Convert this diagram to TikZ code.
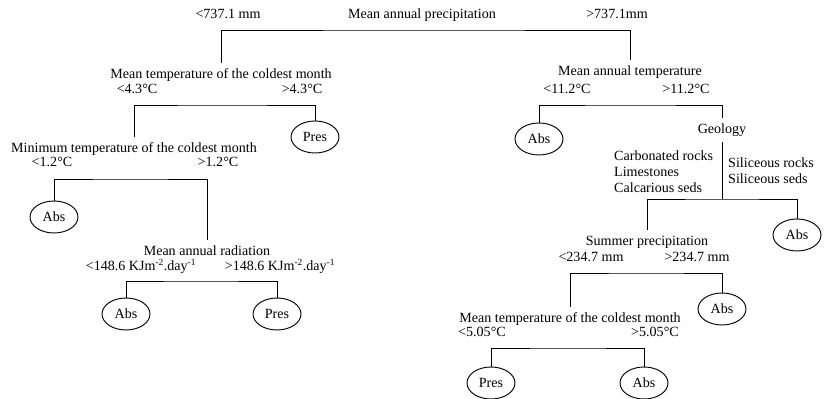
\documentclass[tikz,border=0pt]{standalone}
\usepackage{fontspec}
\setmainfont{Liberation Serif}
\usetikzlibrary{shapes.geometric}

\begin{document}
\begin{tikzpicture}[x=0.03cm,y=-0.03cm,
    every node/.style={font=\fontsize{12}{13.5}\selectfont},
    split/.style={inner sep=0pt,outer ysep=5pt,text height=8pt,text depth=2.5pt},
    cut/.style={inner sep=0pt,text height=8pt,text depth=2.5pt},
    leaf/.style={ellipse,draw,thick,minimum width=1.44cm,minimum height=0.96cm,inner sep=0pt},
    bar/.style={thick}]
    \useasboundingbox (0,0) rectangle (826,399);

    % root split
    \node[cut](root)at(422,15){Mean annual precipitation};
    \node[cut](rootlt)at(228,15){<737.1 mm};
    \node[cut](rootgt)at(617,15){>737.1mm};
    \coordinate(s1)at(422,30);

    % left branch
    \node[split](mtc)at(221,75){Mean temperature of the coldest month};
    \node[cut](mtclt)at(137,90){<4.3°C};
    \node[cut](mtcgt)at(302,90){>4.3°C};
    \coordinate(s2)at(220,105);
    \node[leaf](presa)at(315,137){Pres};

    \node[split](mintc)at(134,149){Minimum temperature of the coldest month};
    \node[cut](mintclt)at(52,163){<1.2°C};
    \node[cut](mintcgt)at(218,163){>1.2°C};
    \coordinate(s3)at(130,179);
    \node[leaf](absa)at(54,217){Abs};

    \node[split](mar)at(207,252){Mean annual radiation};
    \node[cut](marlt)at(141,267){<148.6 KJm\textsuperscript{-2}.day\textsuperscript{-1}};
    \node[cut](margt)at(280,267){>148.6 KJm\textsuperscript{-2}.day\textsuperscript{-1}};
    \coordinate(s4)at(200,281);
    \node[leaf](absb)at(126,314){Abs};
    \node[leaf](presb)at(277,314){Pres};

    % right branch
    \node[split](mat)at(630,72){Mean annual temperature};
    \node[cut](matlt)at(567,90){<11.2°C};
    \node[cut](matgt)at(686,90){>11.2°C};
    \coordinate(s5)at(630,105);
    \node[leaf](absc)at(539,139){Abs};
    \node[split](geo)at(722,130){Geology};

    \node[align=left,anchor=west,inner sep=0pt](carb)at(614,172){Carbonated rocks\\Limestones\\Calcarious seds};
    \node[align=left,anchor=west,inner sep=0pt](sil)at(728,171){Siliceous rocks\\Siliceous seds};
    \coordinate(s6)at(722,199);
    \node[leaf](absd)at(797,235){Abs};

    \node[split](sp)at(647,242){Summer precipitation};
    \node[cut](splt)at(591,258){<234.7 mm};
    \node[cut](spgt)at(697,258){>234.7 mm};
    \coordinate(s7)at(646,273);
    \node[leaf](abse)at(722,309){Abs};

    \node[split](mtcb)at(570,319){Mean temperature of the coldest month};
    \node[cut](mtcblt)at(482,333){<5.05°C};
    \node[cut](mtcbgt)at(655,333){>5.05°C};
    \coordinate(s8)at(568,348);
    \node[leaf](presc)at(491,383){Pres};
    \node[leaf](absf)at(644,383){Abs};

    \draw[bar](mtc.north)|-(s1)-|(mat.north);
    \draw[bar](mintc.north)|-(s2)-|(presa.north);
    \draw[bar](absa.north)|-(s3)-|(mar.north);
    \draw[bar](absb.north)|-(s4)-|(presb.north);
    \draw[bar](absc.north)|-(s5)-|(geo.north);
    \draw[bar](geo.south)--(s6);
    \draw[bar](sp.north)|-(s6)-|(absd.north);
    \draw[bar](mtcb.north)|-(s7)-|(abse.north);
    \draw[bar](presc.north)|-(s8)-|(absf.north);
\end{tikzpicture}
\end{document}
